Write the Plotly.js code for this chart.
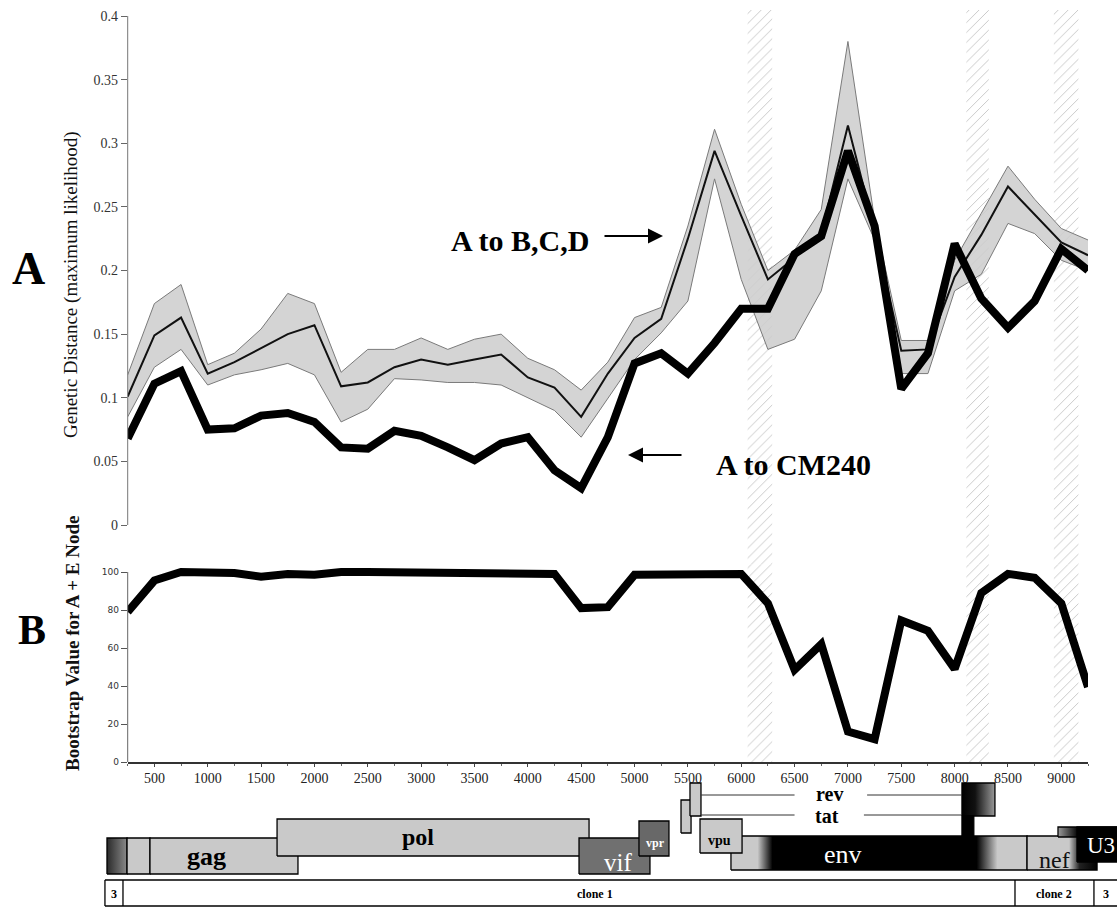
<!DOCTYPE html>
<html><head><meta charset="utf-8">
<script src="https://cdn.plot.ly/plotly-3.0.1.min.js"></script>
<style>html,body{margin:0;padding:0;background:#fff}#chart{width:1117px;height:907px}</style>
</head><body><div id="chart"></div>
<script>
// ---------- data ----------
const windowMid = [250,500,750,1000,1250,1500,1750,2000,2250,2500,2750,3000,3250,3500,3750,4000,4250,4500,4750,5000,5250,5500,5750,6000,6250,6500,6750,7000,7250,7500,7750,8000,8250,8500,8750,9000,9250];
const distCM240 = [0.068,0.111,0.121,0.075,0.076,0.086,0.088,0.081,0.061,0.060,0.074,0.070,0.061,0.051,0.064,0.069,0.043,0.029,0.069,0.127,0.135,0.119,0.143,0.170,0.170,0.213,0.227,0.294,0.235,0.107,0.135,0.221,0.178,0.155,0.176,0.217,0.200];
const distBCDmean = [0.101,0.149,0.163,0.119,0.128,0.139,0.150,0.157,0.109,0.112,0.124,0.130,0.126,0.130,0.134,0.116,0.108,0.085,0.119,0.147,0.162,0.225,0.294,0.243,0.193,0.210,0.229,0.314,0.232,0.137,0.138,0.195,0.228,0.266,0.244,0.222,0.212];
const distBCDupper = [0.118,0.174,0.189,0.126,0.135,0.154,0.182,0.174,0.120,0.138,0.138,0.147,0.138,0.146,0.150,0.131,0.122,0.106,0.128,0.163,0.171,0.235,0.311,0.252,0.200,0.216,0.248,0.380,0.240,0.145,0.145,0.208,0.245,0.282,0.256,0.233,0.224];
const distBCDlower = [0.085,0.124,0.138,0.110,0.118,0.122,0.127,0.118,0.081,0.091,0.115,0.114,0.112,0.112,0.110,0.100,0.090,0.069,0.099,0.130,0.151,0.176,0.272,0.193,0.138,0.146,0.184,0.272,0.224,0.119,0.119,0.184,0.197,0.237,0.229,0.208,0.200];
const bootstrapAE = [79,95.5,100,100,99.5,97.5,99,98.5,100,100,100,100,99.5,99.5,99.5,99,99,81,81.5,98.5,98.5,99,99,99,83.5,48.5,62,16,12,74.5,69,49,89,99,97,83.5,39.5];
const xTickVals = [500,1000,1500,2000,2500,3000,3500,4000,4500,5000,5500,6000,6500,7000,7500,8000,8500,9000];
const distTickVals = [0,0.05,0.1,0.15,0.2,0.25,0.3,0.35,0.4];
const distTickText = ['0','0.05','0.1','0.15','0.2','0.25','0.3','0.35','0.4'];
const bootTickVals = [0,20,40,60,80,100];
const bandStart = [6060,8110,8930];
const bandEnd   = [6290,8320,9160];
// genome map (nucleotide coordinates)
const geneNames = ['LTR','R','gag','pol','vif','vpr','env','tat1','rev1','vpu','nef','U3top','U3','revtat2','tat2'];
const geneStart = [56,244,459,1650,4480,5042,5904,5436,5520,5614,8679,8969,9147,8069,8069];
const geneEnd   = [244,459,1846,4574,5145,5323,8679,5530,5623,6008,9335,9600,9600,8378,8180];
const geneLabels = ['gag','pol','vif','vpr','vpu','env','rev','tat','nef','U3'];
const cloneBounds = [37,206,8566,9306];
const cloneLabels = ['3','clone 1','clone 2','3'];

// ---------- layout helpers ----------
const W = 1117, H = 907;
const px = v => v / W, py = v => 1 - v / H;
const serif = 'Liberation Serif, Times New Roman, serif';

// row geometry of the map (track units, bottom = 0)
const rowOf = {LTR:[33,69],R:[33,69],gag:[33,69],pol:[51,88],vif:[33,69],vpr:[51,86],env:[37,71],
  tat1:[74,107],rev1:[91,124],vpu:[54,88],nef:[37,71],U3top:[70,80],U3:[45,80],revtat2:[91,124],tat2:[71,91]};
const LG = '#c9c9c9';
const fillOf = {
  LTR:{grad:[[0,'#2a2a2a'],[1,'#8a8a8a']]}, R:{c:LG}, gag:{c:LG}, pol:{c:LG}, vif:{c:'#707070'}, vpr:{c:'#686868'},
  env:{grad:[[0,LG],[0.09,LG],[0.14,'#000'],[0.83,'#000'],[0.9,LG],[1,LG]]},
  tat1:{c:LG}, rev1:{c:LG}, vpu:{c:LG},
  nef:{grad:[[0,LG],[0.6,LG],[0.75,'#222'],[1,'#000']]},
  U3top:{grad:[[0,'#9a9a9a'],[0.3,'#000'],[1,'#000']]}, U3:{c:'#000'},
  revtat2:{grad:[[0,'#000'],[0.4,'#111'],[1,'#9a9a9a']]}, tat2:{c:'#000'}
};

const traces = [];
// hatched bands, top and bottom panels
const hatch = {shape:'/', size:7, solidity:0.1, fgcolor:'#b4b4b4', bgcolor:'#ffffff', fgopacity:1};
bandStart.forEach((s,i)=>{
  traces.push({x:[s,bandEnd[i],bandEnd[i],s,s], y:[-0.04,-0.04,0.41,0.41,-0.04], xaxis:'x', yaxis:'y',
    mode:'none', fill:'toself', fillpattern:hatch, fillcolor:'#fff', hoverinfo:'skip'});
});
traces.push({x:windowMid, y:distBCDlower, xaxis:'x', yaxis:'y', mode:'lines', line:{color:'#7a7a7a', width:1}, hoverinfo:'skip'});
traces.push({x:windowMid, y:distBCDupper, xaxis:'x', yaxis:'y', mode:'lines', line:{color:'#7a7a7a', width:1},
  fill:'tonexty', fillcolor:'rgba(204,204,204,0.85)', hoverinfo:'skip'});
traces.push({x:windowMid, y:distBCDmean, xaxis:'x', yaxis:'y', mode:'lines', line:{color:'#111', width:2}, name:'A to B,C,D'});
traces.push({x:windowMid, y:distCM240, xaxis:'x', yaxis:'y', mode:'lines', line:{color:'#000', width:8}, name:'A to CM240'});

bandStart.forEach((s,i)=>{
  traces.push({x:[s,bandEnd[i],bandEnd[i],s,s], y:[-2,-2,110,110,-2], xaxis:'x', yaxis:'y2',
    mode:'none', fill:'toself', fillpattern:hatch, fillcolor:'#fff', hoverinfo:'skip'});
});
traces.push({x:windowMid, y:bootstrapAE, xaxis:'x', yaxis:'y2', mode:'lines', line:{color:'#000', width:8}, name:'Bootstrap'});

// genome map boxes
geneNames.forEach((g,i)=>{
  const [b,t] = rowOf[g];
  const x0 = geneStart[i], x1 = geneEnd[i];
  const tr = {x:[x0,x1,x1,x0,x0], y:[b,b,t,t,b], xaxis:'x3', yaxis:'y3', mode:'lines',
    line:{color:'#000', width:1.3}, fill:'toself', hoverinfo:'skip'};
  const f = fillOf[g];
  if (f.grad) { tr.fillgradient = {type:'horizontal', colorscale:f.grad}; }
  else tr.fillcolor = f.c;
  traces.push(tr);
});
// rev / tat connecting lines
const revU = 112, tatU = 92;
traces.push({x:[5623,6500,null,7180,8069], y:[revU,revU,null,revU,revU], xaxis:'x3', yaxis:'y3', mode:'lines', line:{color:'#333', width:1}, hoverinfo:'skip'});
traces.push({x:[5623,6500,null,7150,8069], y:[tatU,tatU,null,tatU,tatU], xaxis:'x3', yaxis:'y3', mode:'lines', line:{color:'#333', width:1}, hoverinfo:'skip'});
// clone bar
const cx = [], cy = [];
cx.push(cloneBounds[0], 9600, null); cy.push(27,27,null);
cx.push(cloneBounds[0], 9600, null); cy.push(1,1,null);
cloneBounds.forEach(b=>{ cx.push(b,b,null); cy.push(1,27,null); });
traces.push({x:cx, y:cy, xaxis:'x3', yaxis:'y3', mode:'lines', line:{color:'#000', width:1.3}, hoverinfo:'skip'});

// ---------- annotations ----------
const ann = [];
const A = o => Object.assign({xanchor:'center', yanchor:'middle', showarrow:false}, o);
ann.push(A({text:'<b>A</b>', x:px(28), y:py(268), xref:'paper', yref:'paper', font:{family:serif, size:46, color:'#000'}}));
ann.push(A({text:'<b>B</b>', x:px(32), y:py(630), xref:'paper', yref:'paper', font:{family:serif, size:42, color:'#000'}}));
ann.push(A({text:'Genetic Distance (maximum likelihood)', x:px(71), y:py(285), xref:'paper', yref:'paper', textangle:-90, font:{family:serif, size:19, color:'#111'}}));
ann.push(A({text:'<b>Bootstrap Value for A + E Node</b>', x:px(72), y:py(644), xref:'paper', yref:'paper', textangle:-90, font:{family:serif, size:19, color:'#111'}}));
ann.push(A({text:'<b>A to B,C,D</b>', x:px(520), y:py(240), xref:'paper', yref:'paper', font:{family:serif, size:30, color:'#000'}}));
ann.push(A({text:'<b>A to CM240</b>', x:px(793), y:py(465), xref:'paper', yref:'paper', font:{family:serif, size:30, color:'#000'}}));
ann.push({text:'', x:px(663), y:py(236), xref:'paper', yref:'paper', ax:-60, ay:0, showarrow:true, arrowhead:2, arrowsize:1.5, arrowwidth:2, arrowcolor:'#000'});
ann.push({text:'', x:px(628), y:py(455), xref:'paper', yref:'paper', ax:55, ay:0, showarrow:true, arrowhead:2, arrowsize:1.5, arrowwidth:2, arrowcolor:'#000'});
// map labels: [x (nt), y (track), size, color, bold]
const labelStyle = {
  gag:[993,51,26,'#000',true], pol:[2971,70,24,'#000',true], vif:[4845,45,25,'#fff',false], vpr:[5201,64,12,'#fff',true],
  vpu:[5801,67,14,'#000',true], env:[6954,53,26,'#fff',false], rev:[6832,113,20,'#000',true], tat:[6804,91,20,'#000',true],
  nef:[8935,47,24,'#111',false], U3:[9370,62,23,'#fff',false]
};
geneLabels.forEach(l=>{
  const [x,y,s,c,b] = labelStyle[l];
  ann.push(A({text: b?('<b>'+l+'</b>'):l, x:x, y:y, xref:'x3', yref:'y3', font:{family:serif, size:s, color:c}}));
});
const cloneLabelX = [122, 4630, 8932, 9419];
cloneLabels.forEach((l,i)=>{
  ann.push(A({text:'<b>'+l+'</b>', x:cloneLabelX[i], y:13, xref:'x3', yref:'y3', font:{family:serif, size:12, color:'#000'}}));
});

// ---------- axis lines as shapes ----------
const xDom = [127.7/W, 1088/W];
const shapes = [
  {type:'line', xref:'paper', yref:'y', x0:xDom[0], x1:xDom[0], y0:0, y1:0.4, line:{color:'#777', width:1}},
  {type:'line', xref:'paper', yref:'y2', x0:xDom[0], x1:xDom[0], y0:0, y1:100, line:{color:'#666', width:1}}
];

const layout = {
  width:W, height:H, margin:{l:0,r:0,t:0,b:0}, paper_bgcolor:'#fff', plot_bgcolor:'rgba(0,0,0,0)',
  showlegend:false, annotations:ann, shapes:shapes,
  xaxis:{domain:xDom, range:[250,9250], anchor:'y2', tickvals:xTickVals, ticks:'outside', ticklen:3, tickcolor:'#444',
    showline:true, linecolor:'#333', linewidth:1.5, showgrid:false, zeroline:false,
    minor:{dtick:250, tick0:250, ticks:'outside', ticklen:2, tickcolor:'#666'},
    tickfont:{family:serif, size:14, color:'#222'}},
  yaxis:{domain:[1-564.4/H, 1-10/H], range:[-0.03096,0.40472], anchor:'x', tickvals:distTickVals, ticktext:distTickText,
    ticks:'outside', ticklen:6, tickcolor:'#666', showline:false, showgrid:false, zeroline:false,
    tickfont:{family:serif, size:14, color:'#333'}},
  yaxis2:{domain:[1-762/H, 1-564.4/H], range:[0,104], anchor:'x', tickvals:bootTickVals,
    ticks:'outside', ticklen:6, tickcolor:'#555', showline:false, showgrid:false, zeroline:false,
    tickfont:{family:'DejaVu Sans, sans-serif', size:9, color:'#333'}},
  xaxis3:{domain:[0,1], range:[-946.6,9522], anchor:'y3', visible:false, fixedrange:true},
  yaxis3:{domain:[0,129/H], range:[0,129], anchor:'x3', visible:false, fixedrange:true}
};

Plotly.newPlot('chart', traces, layout, {displayModeBar:false, staticPlot:true});
</script></body></html>
